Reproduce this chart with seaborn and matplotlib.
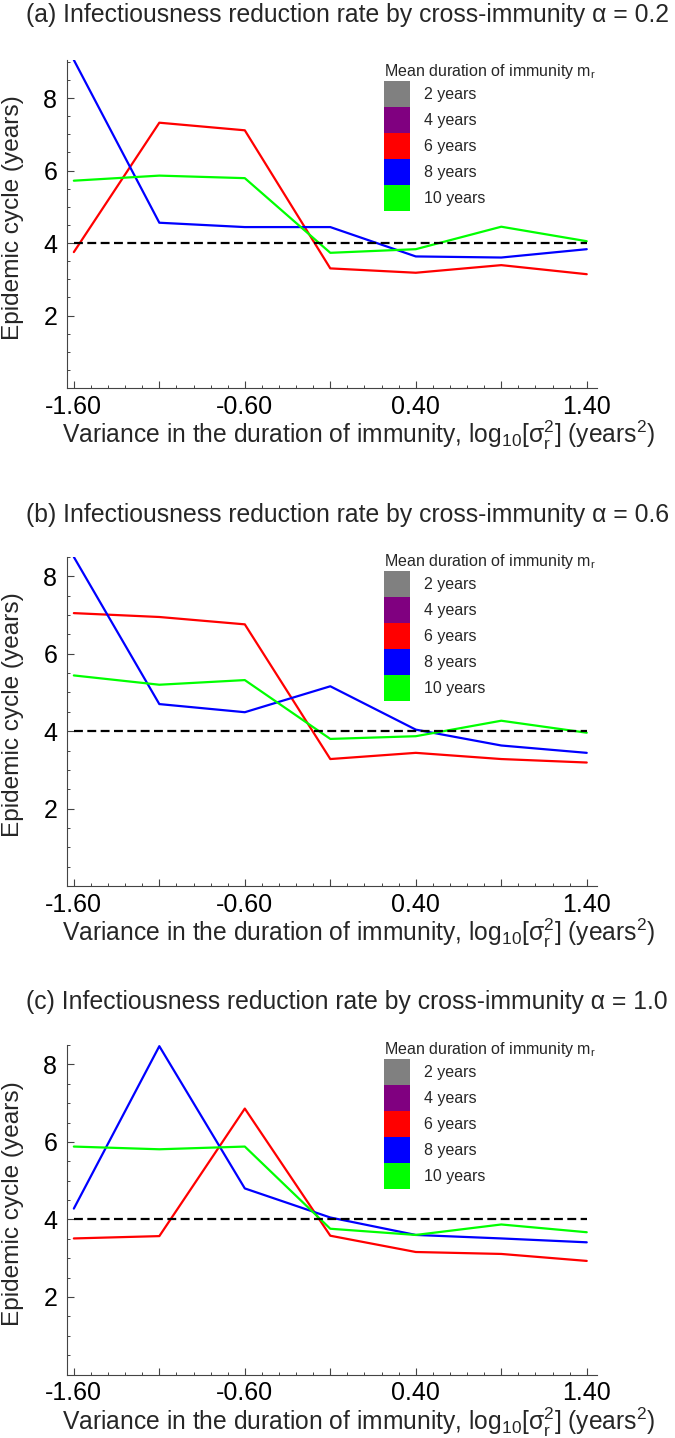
import numpy as np
import pandas as pd
import matplotlib
matplotlib.use("Agg")
import matplotlib.pyplot as plt
import seaborn as sns
from matplotlib.patches import Patch
from matplotlib.ticker import FixedLocator, MultipleLocator, FixedFormatter

# ---------------- data ----------------
x_vals = [-1.6, -1.1, -0.6, -0.1, 0.4, 0.9, 1.4]
xtick_labels = ["-1.60", "", "-0.60", "", "0.40", "", "1.40"]
ytick_vals = [2, 4, 6, 8]
threshold = 4.0

a_6yr = [3.75, 7.32, 7.11, 3.30, 3.18, 3.39, 3.14]
a_8yr = [9.05, 4.56, 4.44, 4.44, 3.63, 3.60, 3.83]
a_10yr = [5.72, 5.86, 5.79, 3.73, 3.83, 4.45, 4.05]

b_6yr = [7.05, 6.95, 6.76, 3.28, 3.44, 3.28, 3.19]
b_8yr = [8.50, 4.70, 4.49, 5.16, 4.04, 3.63, 3.44]
b_10yr = [5.44, 5.20, 5.32, 3.80, 3.87, 4.27, 3.96]

c_6yr = [3.51, 3.57, 6.86, 3.58, 3.16, 3.11, 2.93]
c_8yr = [4.28, 8.47, 4.80, 4.05, 3.60, 3.51, 3.41]
c_10yr = [5.88, 5.81, 5.88, 3.76, 3.60, 3.87, 3.67]

legend_labels = ["2 years", "4 years", "6 years", "8 years", "10 years"]
legend_colors = ["#808080", "#800080", "#ff0000", "#0000ff", "#00ff00"]
series_names = ["6 years", "8 years", "10 years"]
palette = {"6 years": "#ff0000", "8 years": "#0000ff", "10 years": "#00ff00"}

titles = [
    "(a) Infectiousness reduction rate by cross-immunity α = 0.2",
    "(b) Infectiousness reduction rate by cross-immunity α = 0.6",
    "(c) Infectiousness reduction rate by cross-immunity α = 1.0",
]
panel_data = [(a_6yr, a_8yr, a_10yr), (b_6yr, b_8yr, b_10yr), (c_6yr, c_8yr, c_10yr)]
y_tops = [9.05, 8.5, 8.5]

# ---------------- style ----------------
sns.set_style("ticks")
plt.rcParams['font.family'] = ['Liberation Sans', 'DejaVu Sans']
plt.rcParams['mathtext.fontset'] = 'custom'
plt.rcParams['mathtext.rm'] = 'Liberation Sans'
plt.rcParams['mathtext.it'] = 'Liberation Sans:italic'
plt.rcParams['axes.unicode_minus'] = False

W, H = 675, 1438
fig = plt.figure(figsize=(W / 100, H / 100), dpi=100)


def axpos(l, t, r, b):
    return [l / W, 1 - b / H, (r - l) / W, (b - t) / H]


layout = [
    dict(t=60, b=388, title_y=15, leg_y=0.994),
    dict(t=557, b=886, title_y=515, leg_y=1.015),
    dict(t=1045, b=1374.5, title_y=1002, leg_y=1.015),
]

spine_col = "#444444"

for i, lay in enumerate(layout):
    ax = fig.add_axes(axpos(67, lay["t"], 597, lay["b"]))
    d6, d8, d10 = panel_data[i]
    df = pd.DataFrame({
        "x": x_vals * 3,
        "y": d6 + d8 + d10,
        "series": [s for s in series_names for _ in x_vals],
    })
    sns.lineplot(data=df, x="x", y="y", hue="series", palette=palette,
                 hue_order=series_names, legend=False, ax=ax,
                 linewidth=1.6, errorbar=None, sort=False)
    ax.plot([x_vals[0], x_vals[-1]], [threshold, threshold], color="black",
            linestyle=(0, (4, 2)), linewidth=1.6)

    ax.set_xlim(-1.64, 1.46)
    ax.set_ylim(0, y_tops[i])
    ax.xaxis.set_major_locator(FixedLocator(x_vals))
    ax.xaxis.set_major_formatter(FixedFormatter(xtick_labels))
    ax.xaxis.set_minor_locator(MultipleLocator(0.1))
    ax.yaxis.set_major_locator(FixedLocator(ytick_vals))
    ax.yaxis.set_minor_locator(MultipleLocator(0.5))

    ax.tick_params(which="major", direction="in", length=5, width=0.8,
                   color=spine_col, labelsize=18, labelcolor="black")
    ax.tick_params(which="minor", direction="in", length=2.5, width=0.7,
                   color=spine_col)
    ax.tick_params(axis="x", which="major", pad=5)
    ax.tick_params(axis="y", which="major", pad=7)

    sns.despine(ax=ax)
    for sp in ["left", "bottom"]:
        ax.spines[sp].set_color(spine_col)
        ax.spines[sp].set_linewidth(0.8)

    ax_h = lay["b"] - lay["t"]
    ax.set_xlabel(r"Variance in the duration of immunity, log$_\mathregular{10}$[σ$_\mathregular{r}^\mathregular{2}$] (years$^\mathregular{2}$)",
                  fontsize=17.7, va="top")
    ax.xaxis.set_label_coords(0.551, -31.0 / ax_h)
    ax.set_ylabel("Epidemic cycle (years)", fontsize=17.6)
    ax.yaxis.set_label_coords(-0.081, 0.52)

    handles = [Patch(facecolor=c, edgecolor="none", label=l)
               for c, l in zip(legend_colors, legend_labels)]
    leg = ax.legend(handles=handles,
                    title=r"Mean duration of immunity m$_\mathregular{r}$",
                    loc="upper left", bbox_to_anchor=(0.598, lay["leg_y"]),
                    frameon=False, fontsize=11.5, title_fontsize=11.5,
                    handlelength=1.63, handleheight=2.128, labelspacing=0,
                    handletextpad=0.85, borderpad=0, borderaxespad=0)
    leg._legend_box.align = "left"

    fig.text(26 / W, 1 - lay["title_y"] / H, titles[i], fontsize=17.8,
             ha="left", va="center")

fig.savefig("out.png", dpi=100)
